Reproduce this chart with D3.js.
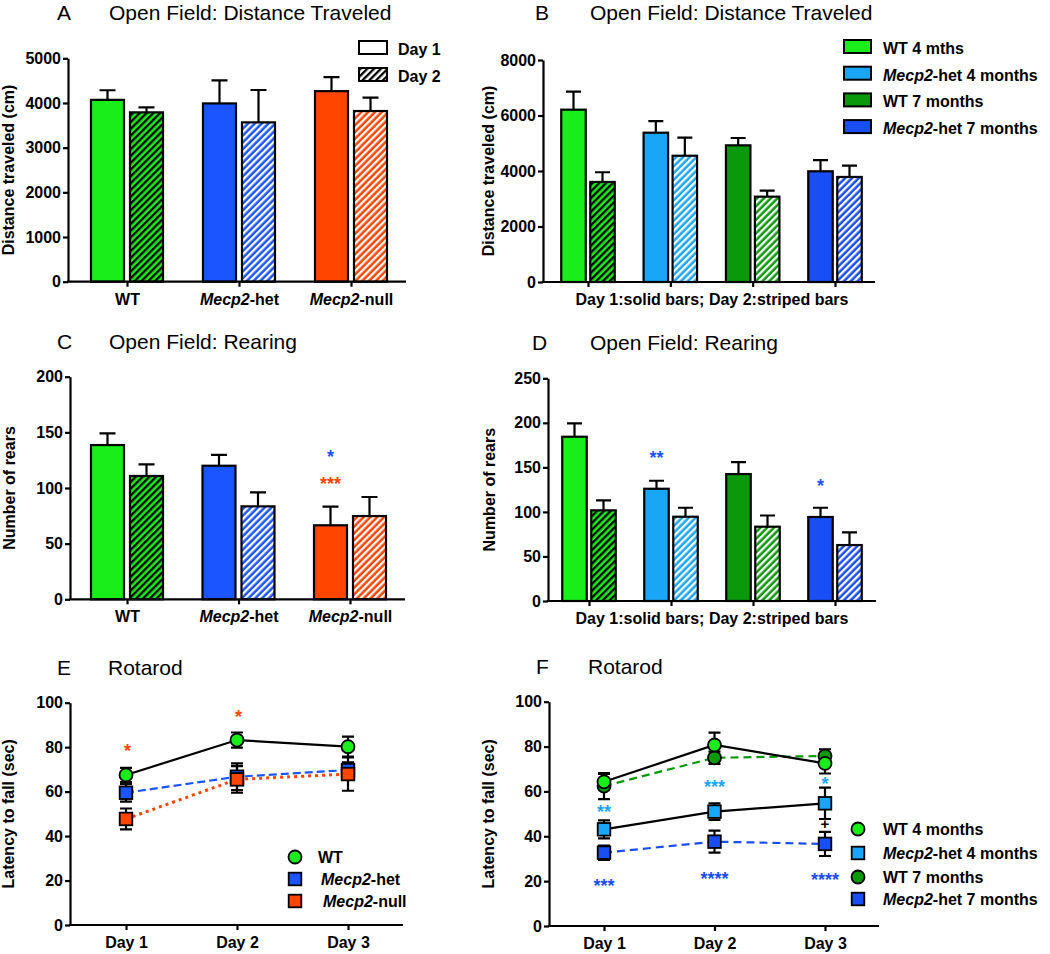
<!DOCTYPE html>
<html><head><meta charset="utf-8">
<script src="https://cdn.jsdelivr.net/npm/d3@7"></script>
<style>body{margin:0;background:#fff} svg{display:block}</style>
</head><body><svg id="c" width="1050" height="954"></svg>
<script>
// ---------- DATA ----------
const groupsA = ["WT", "Mecp2-het", "Mecp2-null"];
const distA_day1 = [4070, 3990, 4265];
const distA_day1_err = [215, 515, 315];
const distA_day2 = [3790, 3566, 3820];
const distA_day2_err = [110, 725, 300];
const ticksA = [0, 1000, 2000, 3000, 4000, 5000];

const groupsB = ["WT 4 mths", "Mecp2-het 4 months", "WT 7 months", "Mecp2-het 7 months"];
const distB_day1 = [6210, 5380, 4925, 3990];
const distB_day1_err = [650, 420, 265, 405];
const distB_day2 = [3605, 4550, 3075, 3785];
const distB_day2_err = [350, 650, 215, 410];
const ticksB = [0, 2000, 4000, 6000, 8000];

const rearC_day1 = [138.6, 120, 66.5];
const rearC_day1_err = [10.4, 9.7, 16.7];
const rearC_day2 = [110.8, 83.5, 74.8];
const rearC_day2_err = [10.5, 12.6, 17.1];
const ticksC = [0, 50, 100, 150, 200];
// significance marks: [group index, value (centre), text, colour key]
const starsC = [[2, 131.4, "*", "het"], [2, 107.3, "***", "null"]];

const rearD_day1 = [184.4, 126, 142.5, 94.3];
const rearD_day1_err = [15, 9, 13.5, 10.4];
const rearD_day2 = [101.8, 94.6, 83.4, 62.8];
const rearD_day2_err = [11.2, 10.1, 12.6, 14.2];
const ticksD = [0, 50, 100, 150, 200, 250];
const starsD = [[1, 165, "**", "het"], [3, 133.6, "*", "het"]];

const days = ["Day 1", "Day 2", "Day 3"];
const seriesE = ["WT", "Mecp2-het", "Mecp2-null"];
const rotE_WT = [67.5, 83.2, 80.2];
const rotE_WT_err = [3.2, 3.4, 4.5];
const rotE_het = [59.5, 66.7, 69.7];
const rotE_het_err = [4, 6, 3.5];
const rotE_null = [47.7, 65.5, 67.9];
const rotE_null_err = [4.7, 6, 7.5];
const ticksE = [0, 20, 40, 60, 80, 100];
const starsE = [[0, 80.2, "*", "null"], [1, 95.5, "*", "null"]];

const seriesF = ["WT 4 months", "Mecp2-het 4 months", "WT 7 months", "Mecp2-het 7 months"];
const rotF_WT4 = [64.3, 80.7, 72.5];
const rotF_WT4_err = [3.5, 5.5, 4.5];
const rotF_het4 = [43.1, 51, 54.7];
const rotF_het4_err = [4, 3.7, 7];
const rotF_WT7 = [62.4, 75, 75.8];
const rotF_WT7_err = [5.8, 2.7, 3];
const rotF_het7 = [32.7, 37.6, 36.6];
const rotF_het7_err = [3.2, 4.9, 5.4];
const starsF = [[0, 52.5, "**", "het4"], [1, 63.6, "***", "het4"], [2, 65.1, "*", "het4"],
                [0, 19.8, "***", "het7"], [1, 22.7, "****", "het7"], [2, 22.3, "****", "het7"],
                [2, 45.5, "+", "black"]];

// ---------- STYLE ----------
const FONT = '"Liberation Sans", Arial, Helvetica, sans-serif';
const C = {
  wt: "#1aee1a", het: "#1a55ff", null: "#ff4500",
  wt4: "#1aee1a", het4: "#19a6f7", wt7: "#0a990a", het7: "#1a4ef5", black: "#000"
};

const svg = d3.select("#c").attr("font-family", FONT);
const defs = svg.append("defs");
function hatch(id, bg, fg) {
  const P = 4.8;
  const p = defs.append("pattern").attr("id", id).attr("patternUnits", "userSpaceOnUse")
    .attr("width", P).attr("height", P).attr("patternTransform", "rotate(45)");
  p.append("rect").attr("width", P).attr("height", P).attr("fill", bg);
  p.append("rect").attr("width", 2.3).attr("height", P).attr("fill", fg);
  return `url(#${id})`;
}

function rich(sel, label) {
  if (label.startsWith("Mecp2")) {
    sel.append("tspan").attr("font-style", "italic").text("Mecp2");
    sel.append("tspan").text(label.slice(5));
  } else sel.text(label);
}

function title(letter, lx, text, tx, by) {
  svg.append("text").attr("x", lx).attr("y", by).attr("font-size", 21).text(letter);
  svg.append("text").attr("x", tx).attr("y", by).attr("font-size", 21).text(text);
}

function yAxis(y, ticks, x0) {
  const g = svg.append("g").attr("transform", `translate(${x0},0)`)
    .call(d3.axisLeft(y).tickValues(ticks).tickSize(5).tickSizeOuter(0).tickPadding(2).tickFormat(d3.format("d")));
  g.attr("font-family", FONT);
  g.select(".domain").attr("stroke", "#000").attr("stroke-width", 2.2);
  g.selectAll(".tick line").attr("stroke", "#000").attr("stroke-width", 2.2);
  g.selectAll(".tick text").attr("font-size", 16).attr("font-weight", "bold").attr("fill", "#000");
}

function xAxis(x, cats, x0, x1, y0, showLabels) {
  svg.append("line").attr("x1", x0 - 1).attr("x2", x1).attr("y1", y0).attr("y2", y0)
    .attr("stroke", "#000").attr("stroke-width", 2.2);
  const g = svg.append("g").attr("transform", `translate(0,${y0})`)
    .call(d3.axisBottom(x).tickSize(5).tickPadding(6.5).tickFormat(() => ""));
  g.select(".domain").remove();
  g.selectAll(".tick line").attr("stroke", "#000").attr("stroke-width", 2.2);
  g.selectAll(".tick text").attr("font-size", 16).attr("font-weight", "bold").attr("fill", "#000")
    .attr("font-family", FONT)
    .each(function (d) { if (showLabels) rich(d3.select(this), d); });
}

function yTitle(text, x, yc) {
  svg.append("text").attr("transform", `translate(${x},${yc}) rotate(-90)`)
    .attr("text-anchor", "middle").attr("font-size", 16).attr("font-weight", "bold").text(text);
}

function stars(list, xpos, y) {
  list.forEach(([i, v, t, c]) => {
    const isPlus = t === "+";
    svg.append("text").attr("x", xpos(i)).attr("y", y(v) + (isPlus ? 5 : 10))
      .attr("text-anchor", "middle").attr("font-size", isPlus ? 15 : 18).attr("font-weight", "bold")
      .attr("fill", C[c]).text(t);
  });
}

// ---------- BAR PANEL ----------
function barPanel(o) {
  const y = d3.scaleLinear().domain([0, o.max]).range([o.yBot, o.yTop]);
  const x = d3.scalePoint().domain(o.cats).range(o.cRange);
  const g = svg.append("g");
  const recs = [];
  o.cats.forEach((c, i) => {
    recs.push({ x: x(c) - o.gap / 2 - o.barW, v: o.d1[i], e: o.e1[i], fill: o.colors[i] });
    recs.push({ x: x(c) + o.gap / 2, v: o.d2[i], e: o.e2[i],
      fill: hatch(o.id + i, o.colors[i], o.stripe[i]) });
  });
  g.selectAll(".eb").data(recs).join("path")
    .attr("d", d => {
      const cx = d.x + o.barW / 2, yt = y(d.v + d.e);
      return `M${cx},${y(d.v)}V${yt}M${cx - o.cap / 2},${yt}H${cx + o.cap / 2}`;
    })
    .attr("stroke", "#000").attr("stroke-width", 2.2).attr("fill", "none");
  g.selectAll(".bar").data(recs).join("rect")
    .attr("x", d => d.x).attr("width", o.barW)
    .attr("y", d => y(d.v)).attr("height", d => y(0) - y(d.v))
    .attr("fill", d => d.fill).attr("stroke", "#000").attr("stroke-width", 2.2);
  yAxis(y, o.ticks, o.x0);
  xAxis(x, o.cats, o.x0, o.x1, o.yBot, o.showLabels);
  yTitle(o.yTitle, o.yTitleX, (o.yTop + o.yBot) / 2);
  if (o.xTitle) {
    svg.append("text").attr("x", o.xTitleX).attr("y", o.yBot + 22.5).attr("text-anchor", "middle")
      .attr("font-size", 16).attr("font-weight", "bold").text(o.xTitle);
  }
  if (o.stars) stars(o.stars, i => x(o.cats[i]) - o.gap / 2 - o.barW / 2, y);
}

// ---------- LINE PANEL ----------
function linePanel(o) {
  const y = d3.scaleLinear().domain([0, 100]).range([o.yBot, o.yTop]);
  const x = d3.scalePoint().domain(days).range(o.cRange);
  const g = svg.append("g");
  const line = d3.line().x((d, i) => x(days[i])).y(d => y(d));
  const order = o.order || o.series.map((s, i) => i);
  const ser = order.map(i => o.series[i]);
  ser.forEach(s => {
    g.append("path").datum(s.v).attr("d", line).attr("fill", "none")
      .attr("stroke", s.line).attr("stroke-width", s.lw || 2.2)
      .attr("stroke-dasharray", s.dash || null).attr("stroke-linecap", s.cap || "butt");
  });
  ser.forEach(s => {
    s.v.forEach((v, i) => {
      const cx = x(days[i]), yt = y(v + s.e[i]), yb = y(v - s.e[i]);
      g.append("path").attr("d", `M${cx},${yt}V${yb}M${cx - 6},${yt}H${cx + 6}M${cx - 6},${yb}H${cx + 6}`)
        .attr("stroke", "#000").attr("stroke-width", 2.2).attr("fill", "none");
    });
  });
  ser.forEach(s => {
    s.v.forEach((v, i) => drawMarker(g, s.shape, x(days[i]), y(v), s.fill));
  });
  yAxis(y, ticksE, o.x0);
  xAxis(x, days, o.x0, o.x1, o.yBot, true);
  yTitle("Latency to fall (sec)", o.yTitleX, (o.yTop + o.yBot) / 2);
  stars(o.stars, i => x(days[i]) + (o.starDx || 0), y);
  o.series.forEach((s, k) => {
    const ly = o.legY[k];
    drawMarker(svg, s.shape, o.legX, ly, s.fill);
    const t = svg.append("text").attr("x", o.legTX[k]).attr("y", ly + 6)
      .attr("font-size", 16).attr("font-weight", "bold");
    rich(t, s.name);
  });
}
function drawMarker(g, shape, cx, cy, fill) {
  if (shape === "circle") {
    g.append("circle").attr("cx", cx).attr("cy", cy).attr("r", 6.5)
      .attr("fill", fill).attr("stroke", "#000").attr("stroke-width", 1.8);
  } else {
    g.append("rect").attr("x", cx - 6.3).attr("y", cy - 6.3).attr("width", 12.6).attr("height", 12.6)
      .attr("fill", fill).attr("stroke", "#000").attr("stroke-width", 1.8);
  }
}

// ---------- PANEL A ----------
title("A", 57, "Open Field: Distance Traveled", 109, 20);
barPanel({ id: "hA", x0: 68, x1: 406, yTop: 58.3, yBot: 281.7, max: 5000, ticks: ticksA,
  cats: groupsA, cRange: [127, 351], d1: distA_day1, e1: distA_day1_err, d2: distA_day2, e2: distA_day2_err,
  colors: [C.wt, C.het, C.null], stripe: ["#000", "#fff", "#fff"], barW: 33, gap: 6, cap: 16,
  yTitle: "Distance traveled (cm)", yTitleX: 14, showLabels: true });
[["Day 1", "#fff"], ["Day 2", hatch("hLeg", "#fff", "#000")]].forEach(([t, f], k) => {
  const by = 41 + k * 27;
  svg.append("rect").attr("x", 359).attr("y", by).attr("width", 28).attr("height", 13)
    .attr("fill", f).attr("stroke", "#000").attr("stroke-width", 2);
  svg.append("text").attr("x", 398).attr("y", by + 14).attr("font-size", 16).attr("font-weight", "bold").text(t);
});

// ---------- PANEL B ----------
title("B", 535, "Open Field: Distance Traveled", 590, 20);
const colorsB = [C.wt4, C.het4, C.wt7, C.het7];
barPanel({ id: "hB", x0: 543, x1: 875, yTop: 60, yBot: 282, max: 8000, ticks: ticksB,
  cats: groupsB, cRange: [588, 835], d1: distB_day1, e1: distB_day1_err, d2: distB_day2, e2: distB_day2_err,
  colors: colorsB, stripe: ["#000", "#fff", "#fff", "#fff"], barW: 24.5, gap: 4.5, cap: 15,
  yTitle: "Distance traveled (cm)", yTitleX: 494, showLabels: false,
  xTitle: "Day 1:solid bars; Day 2:striped bars", xTitleX: 712 });
groupsB.forEach((t, k) => {
  const by = 40 + k * 26.7;
  svg.append("rect").attr("x", 844).attr("y", by).attr("width", 27).attr("height", 13)
    .attr("fill", colorsB[k]).attr("stroke", "#000").attr("stroke-width", 2);
  rich(svg.append("text").attr("x", 883).attr("y", by + 14).attr("font-size", 16).attr("font-weight", "bold"), t);
});

// ---------- PANEL C ----------
title("C", 57, "Open Field: Rearing", 109, 349);
barPanel({ id: "hC", x0: 70, x1: 405, yTop: 376.7, yBot: 599.3, max: 200, ticks: ticksC,
  cats: groupsA, cRange: [127, 350], d1: rearC_day1, e1: rearC_day1_err, d2: rearC_day2, e2: rearC_day2_err,
  colors: [C.wt, C.het, C.null], stripe: ["#000", "#fff", "#fff"], barW: 33, gap: 6, cap: 16,
  yTitle: "Number of rears", yTitleX: 15, showLabels: true, stars: starsC });

// ---------- PANEL D ----------
title("D", 532, "Open Field: Rearing", 590, 350);
barPanel({ id: "hD", x0: 548, x1: 876, yTop: 378.3, yBot: 601, max: 250, ticks: ticksD,
  cats: groupsB, cRange: [589, 835], d1: rearD_day1, e1: rearD_day1_err, d2: rearD_day2, e2: rearD_day2_err,
  colors: colorsB, stripe: ["#000", "#fff", "#fff", "#fff"], barW: 24.5, gap: 4.5, cap: 15,
  yTitle: "Number of rears", yTitleX: 495, showLabels: false,
  xTitle: "Day 1:solid bars; Day 2:striped bars", xTitleX: 712, stars: starsD });

// ---------- PANEL E ----------
title("E", 57, "Rotarod", 108, 675);
linePanel({ x0: 70, x1: 403, yTop: 702.7, yBot: 925, cRange: [126, 348], yTitleX: 14,
  series: [
    { name: seriesE[0], v: rotE_WT, e: rotE_WT_err, shape: "circle", fill: C.wt, line: "#000" },
    { name: seriesE[1], v: rotE_het, e: rotE_het_err, shape: "square", fill: C.het, line: C.het, dash: "8,4" },
    { name: seriesE[2], v: rotE_null, e: rotE_null_err, shape: "square", fill: C.null, line: C.null, dash: "3,4", lw: 3 }
  ],
  stars: starsE, starDx: 1.5,
  legX: 295, legY: [857, 879, 901], legTX: [318, 321, 323] });

// ---------- PANEL F ----------
title("F", 536, "Rotarod", 588, 674);
linePanel({ x0: 549, x1: 879, yTop: 701.7, yBot: 926, cRange: [604, 825], yTitleX: 494,
  series: [
    { name: seriesF[0], v: rotF_WT4, e: rotF_WT4_err, shape: "circle", fill: C.wt4, line: "#000" },
    { name: seriesF[1], v: rotF_het4, e: rotF_het4_err, shape: "square", fill: C.het4, line: "#000" },
    { name: seriesF[2], v: rotF_WT7, e: rotF_WT7_err, shape: "circle", fill: C.wt7, line: C.wt7, dash: "8,5" },
    { name: seriesF[3], v: rotF_het7, e: rotF_het7_err, shape: "square", fill: C.het7, line: C.het7, dash: "8,5" }
  ],
  order: [3, 2, 1, 0],
  stars: starsF, starDx: 0,
  legX: 858, legY: [829, 853, 877, 899], legTX: [883, 883, 883, 883] });
</script>
</body></html>
